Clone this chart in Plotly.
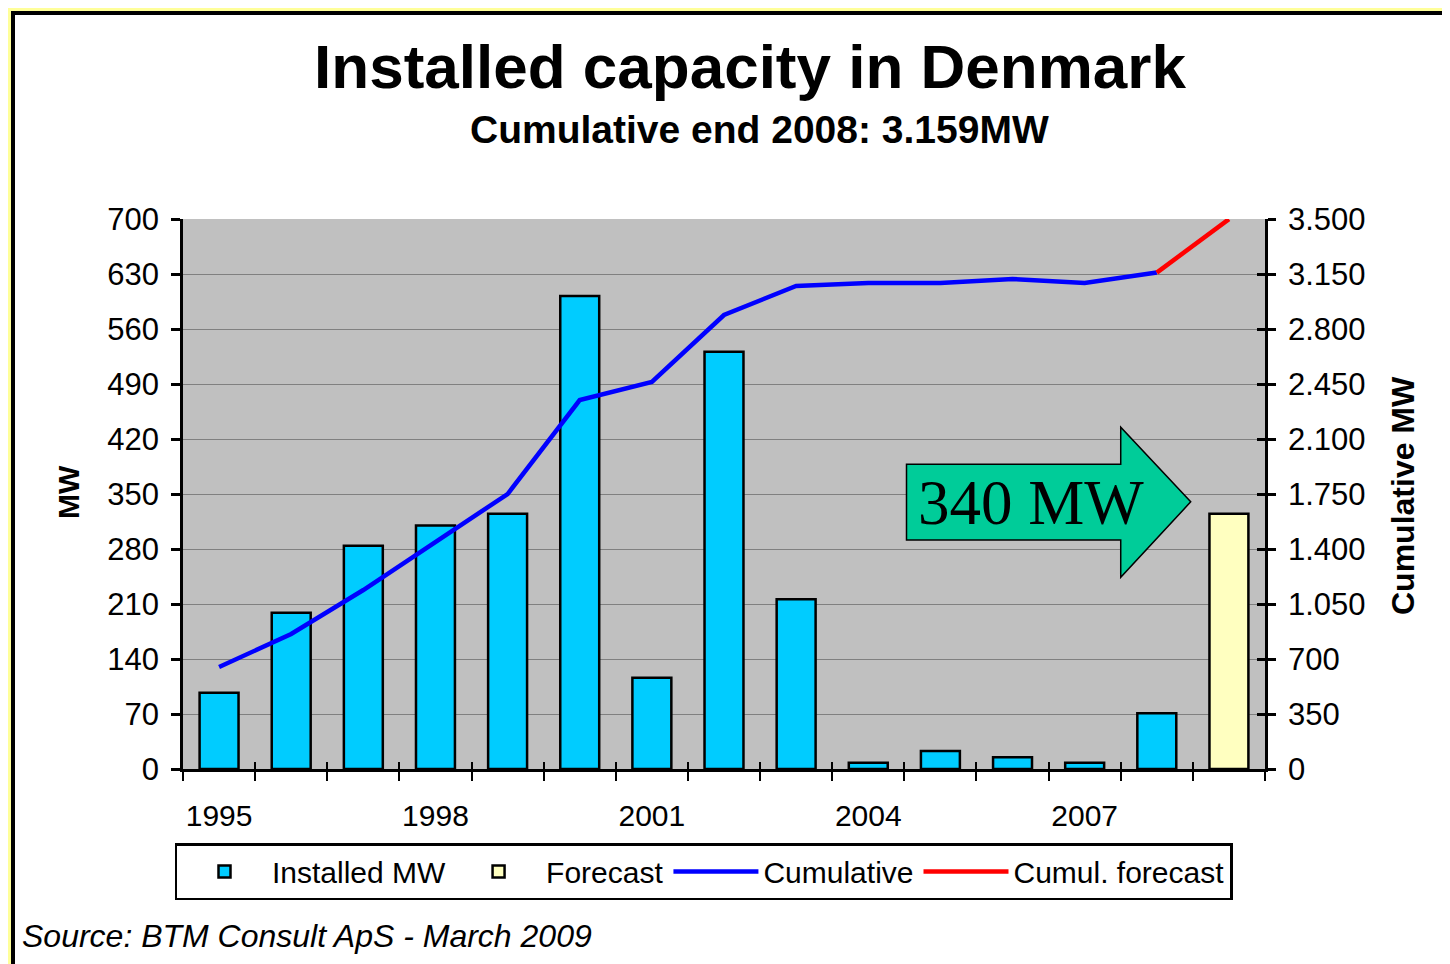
import plotly.graph_objects as go

# ---- data ----
years = [1995, 1996, 1997, 1998, 1999, 2000, 2001, 2002, 2003, 2004, 2005, 2006, 2007, 2008]
installed_mw = [97, 199, 284, 310, 325, 602, 116, 531, 216, 8, 23, 15, 8, 71]
forecast_years = [2009]
forecast_mw = [325]
cumulative_mw = [649, 859, 1139, 1445, 1750, 2348, 2463, 2889, 3074, 3093, 3093, 3118, 3093, 3159]
cum_forecast_years = [2008, 2009]
cum_forecast_mw = [3159, 3499]
label_years = [1995, 1998, 2001, 2004, 2007]
boundaries = [y - 0.5 for y in years + forecast_years] + [2009.5]
left_ticks = list(range(0, 701, 70))
right_ticks = list(range(0, 3501, 350))

FONT = "Liberation Sans, Arial, sans-serif"
OFF = 8  # page offset of the plot div in the browser
# plot area in screen pixels
PL, PR, PT, PB = 183, 1265, 219, 769
W, H = 1450, 964


def px_x(p):
    return (p - PL) / (PR - PL)


def px_y(p):
    return (PB - p) / (PB - PT)


fig = go.Figure()

fig.add_trace(go.Bar(
    x=years, y=installed_mw, name="Installed MW", width=0.54,
    marker=dict(color="#00CCFF", line=dict(color="black", width=2.5)),
    xaxis="x", yaxis="y"))
fig.add_trace(go.Bar(
    x=forecast_years, y=forecast_mw, name="Forecast", width=0.54,
    marker=dict(color="#FFFFC0", line=dict(color="black", width=2.5)),
    xaxis="x", yaxis="y"))
fig.add_trace(go.Scatter(
    x=years, y=cumulative_mw, name="Cumulative", mode="lines",
    line=dict(color="#0000FF", width=4.5), xaxis="x", yaxis="y2"))
fig.add_trace(go.Scatter(
    x=cum_forecast_years, y=cum_forecast_mw, name="Cumul. forecast", mode="lines",
    line=dict(color="#FF0000", width=4.5), xaxis="x", yaxis="y2"))

# dummy traces to register overlay axes (ticks only)
for xa, ya in [("x2", "y"), ("x3", "y"), ("x", "y3")]:
    fig.add_trace(go.Scatter(x=[None], y=[None], xaxis=xa, yaxis=ya,
                             showlegend=False, hoverinfo="skip", mode="markers"))

fig.update_layout(
    width=W, height=H,
    margin=dict(l=PL - OFF, r=W - (PR - OFF), t=PT - OFF, b=H - (PB - OFF)),
    paper_bgcolor="white",
    plot_bgcolor="#C0C0C0",
    barmode="overlay",
    separators=",.",
    font=dict(family=FONT, color="black", size=30),
    title=dict(text="<b>Installed capacity in Denmark</b>",
               font=dict(family=FONT, size=62, color="black"),
               x=(750 - OFF) / W, xanchor="center", y=1 - (66 - OFF) / H, yanchor="middle",
               xref="container", yref="container"),
    xaxis=dict(range=[1994.5, 2009.5], tickmode="array", tickvals=boundaries,
               ticks="outside", ticklen=9, tickwidth=2, tickcolor="black",
               showticklabels=False, showgrid=False, zeroline=False,
               showline=True, linecolor="black", linewidth=3),
    xaxis2=dict(range=[1994.5, 2009.5], overlaying="x", side="bottom", anchor="y",
                tickmode="array", tickvals=label_years, ticktext=[str(v) for v in label_years],
                ticks="outside", ticklen=20, tickcolor="rgba(0,0,0,0)",
                tickfont=dict(size=30), showgrid=False, zeroline=False, showline=False),
    xaxis3=dict(range=[1994.5, 2009.5], overlaying="x", side="bottom", anchor="y",
                tickmode="array", tickvals=boundaries, ticks="inside", ticklen=7,
                tickwidth=2, tickcolor="black", showticklabels=False,
                showgrid=False, zeroline=False, showline=False),
    yaxis=dict(range=[0, 700], tickmode="array", tickvals=left_ticks, tickformat="d",
               ticks="outside", ticklen=9, tickwidth=2.5, tickcolor="black",
               ticklabelstandoff=6,
               tickfont=dict(size=31), showgrid=True, gridcolor="#808080", gridwidth=1,
               zeroline=False, showline=True, linecolor="black", linewidth=2.5),
    yaxis2=dict(range=[0, 3500], overlaying="y", side="right", anchor="x",
                tickmode="array", tickvals=right_ticks, tickformat=",d",
                ticks="outside", ticklen=8, tickwidth=2.5, tickcolor="black",
                ticklabelstandoff=6,
                tickfont=dict(size=31), showgrid=False, zeroline=False,
                showline=True, linecolor="black", linewidth=2.5),
    yaxis3=dict(range=[0, 3500], overlaying="y", side="right", anchor="x",
                tickmode="array", tickvals=right_ticks, ticks="inside", ticklen=8,
                tickwidth=2.5, tickcolor="black", showticklabels=False,
                showgrid=False, zeroline=False, showline=False),
    legend=dict(orientation="h", x=px_x(703.5), xanchor="center",
                y=px_y(843), yanchor="top", bgcolor="white",
                bordercolor="black", borderwidth=2.5,
                font=dict(family=FONT, size=30, color="black"),
                itemwidth=85, traceorder="normal"),
    showlegend=True,
)

# subtitle, axis titles, source
fig.add_annotation(text="<b>Cumulative end 2008: 3.159MW</b>", xref="paper", yref="paper",
                   x=px_x(759.5), y=px_y(129), xanchor="center", yanchor="middle",
                   showarrow=False, font=dict(family=FONT, size=39, color="black"))
fig.add_annotation(text="<b>MW</b>", xref="paper", yref="paper",
                   x=px_x(68), y=px_y(492), textangle=-90, xanchor="center", yanchor="middle",
                   showarrow=False, font=dict(family=FONT, size=30, color="black"))
fig.add_annotation(text="<b>Cumulative MW</b>", xref="paper", yref="paper",
                   x=px_x(1403), y=px_y(496), textangle=-90, xanchor="center", yanchor="middle",
                   showarrow=False, font=dict(family=FONT, size=32, color="black"))
fig.add_annotation(text="<i>Source: BTM Consult ApS - March 2009</i>", xref="paper", yref="paper",
                   x=px_x(20), y=px_y(936), xanchor="left", yanchor="middle",
                   showarrow=False, font=dict(family=FONT, size=32, color="black"))

# arrow callout (in data coordinates of x / y)
ax0, ax1, ax2 = 2004.53, 2007.5, 2008.47
ay_tip, ay_bt, ay_bb, ay_ht, ay_hb = 340, 388, 291.5, 435, 244
arrow_path = (f"M {ax0},{ay_bt} L {ax1},{ay_bt} L {ax1},{ay_ht} L {ax2},{ay_tip} "
              f"L {ax1},{ay_hb} L {ax1},{ay_bb} L {ax0},{ay_bb} Z")
fig.add_shape(type="path", path=arrow_path, xref="x", yref="y",
              fillcolor="#00CC99", line=dict(color="black", width=1.5), layer="above")
fig.add_annotation(text="340 MW", xref="x", yref="y", x=2006.26, y=338.5,
                   xanchor="center", yanchor="middle", showarrow=False,
                   font=dict(family="Liberation Serif, Times New Roman, serif", size=63, color="black"))

# frame: yellow outer strip + black inner border on top and left
xl, xr = px_x(OFF), px_x(W + OFF)
yb = px_y(H + OFF)
fig.add_shape(type="rect", xref="paper", yref="paper", x0=xl, x1=xr, y0=px_y(11), y1=px_y(OFF),
              fillcolor="#FFFF99", line=dict(width=0), layer="above")
fig.add_shape(type="rect", xref="paper", yref="paper", x0=xl, x1=px_x(11), y0=yb, y1=px_y(OFF),
              fillcolor="#FFFF99", line=dict(width=0), layer="above")
fig.add_shape(type="rect", xref="paper", yref="paper", x0=px_x(11), x1=xr, y0=px_y(15), y1=px_y(11),
              fillcolor="black", line=dict(width=0), layer="above")
fig.add_shape(type="rect", xref="paper", yref="paper", x0=px_x(11), x1=px_x(15), y0=yb, y1=px_y(11),
              fillcolor="black", line=dict(width=0), layer="above")

fig.write_html("out.html")
